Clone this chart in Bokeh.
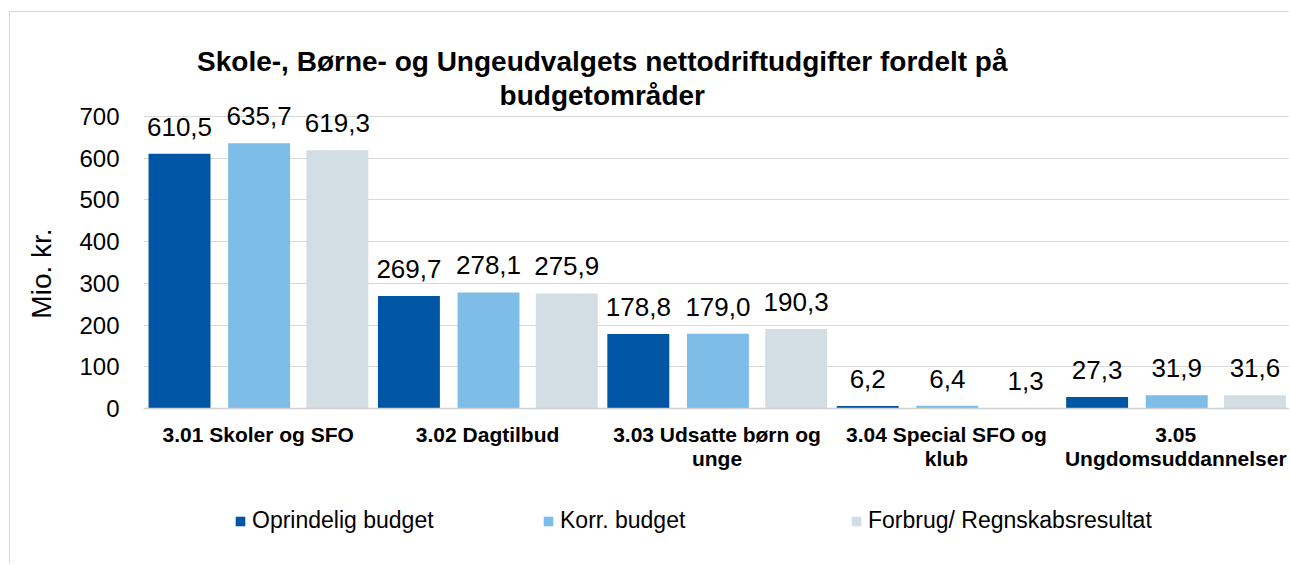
from bokeh.plotting import figure
from bokeh.models import (ColumnDataSource, Range1d, FixedTicker, LinearAxis,
                          LabelSet, Label, Legend, LegendItem)
from bokeh.core.properties import value
from bokeh.transform import dodge
from bokeh.embed import file_html
from bokeh.resources import INLINE

# ---- data ----
categories = ["3.01 Skoler og SFO", "3.02 Dagtilbud", "3.03 Udsatte børn og unge",
              "3.04 Special SFO og klub", "3.05 Ungdomsuddannelser"]
category_labels = ["3.01 Skoler og SFO", "3.02 Dagtilbud", "3.03 Udsatte børn og\nunge",
                   "3.04 Special SFO og\nklub", "3.05\nUngdomsuddannelser"]
series_names = ["Oprindelig budget", "Korr. budget", "Forbrug/ Regnskabsresultat"]
oprindelig = [610.5, 269.7, 178.8, 6.2, 27.3]
korr = [635.7, 278.1, 179.0, 6.4, 31.9]
forbrug = [619.3, 275.9, 190.3, 1.3, 31.6]
y_ticks = [0, 100, 200, 300, 400, 500, 600, 700]
title_lines = ["Skole-, Børne- og Ungeudvalgets nettodriftudgifter fordelt på", "budgetområder"]
y_label = "Mio. kr."

colors = ["#0055A4", "#7DBDE8", "#D3DDE4"]
offsets = [-0.343, 0.004, 0.345]
FONT = "Liberation Sans"

def fmt(v):
    return f"{v:.1f}".replace(".", ",")

xpos = [i + 0.5 for i in range(len(categories))]
series = [oprindelig, korr, forbrug]
data = dict(cat=categories, x=xpos)
for i, s in enumerate(series):
    data[f"v{i}"] = s
    data[f"l{i}"] = [fmt(v) for v in s]
source = ColumnDataSource(data)

line1 = [c.split("\n")[0] for c in category_labels]
line2 = [c.split("\n")[1] if "\n" in c else "" for c in category_labels]

# the frame covers title and legend area so nothing is clipped; value 0 sits at the x axis
p = figure(x_range=Range1d(0, len(categories)), y_range=Range1d(-302.05, 949.3),
           width=1280, height=552, output_backend="svg", toolbar_location=None,
           min_border_left=133, min_border_right=0, min_border_top=0, min_border_bottom=30)
p.styles = {"margin-left": "9px", "margin-top": "11px",
            "border-left": "1px solid #d9d9d9", "border-top": "1px solid #d9d9d9"}
p.outline_line_color = None
p.xgrid.grid_line_color = None
p.ygrid.grid_line_color = "#d9d9d9"
p.ygrid.grid_line_width = 1

items = []
for i in range(3):
    r = p.vbar(x=dodge("x", offsets[i]), top=f"v{i}", width=0.27,
               source=source, fill_color=colors[i], line_color=None)
    items.append(LegendItem(label=series_names[i], renderers=[r]))
    p.add_layout(LabelSet(x=dodge("x", offsets[i]), y=f"v{i}", text=f"l{i}",
                          source=source, text_align="center", text_baseline="alphabetic",
                          y_offset=18, text_font=value(FONT), text_font_size=value("26px"),
                          text_color="#000000"))

# y axis
p.yaxis.ticker = FixedTicker(ticks=y_ticks)
p.yaxis.axis_line_color = None
p.yaxis.major_tick_line_color = None
p.yaxis.major_tick_out = 0
p.yaxis.major_tick_in = 0
p.yaxis.minor_tick_line_color = None
p.yaxis.major_label_standoff = 24
p.yaxis.major_label_text_font = FONT
p.yaxis.major_label_text_font_size = "24px"
p.yaxis.major_label_text_color = "#000000"
p.yaxis.axis_label = y_label
p.yaxis.axis_label_text_font = FONT
p.yaxis.axis_label_text_font_size = "28px"
p.yaxis.axis_label_text_font_style = "normal"
p.yaxis.axis_label_text_color = "#000000"
p.yaxis.axis_label_standoff = 19

# x axis at value 0: two stacked category label lines
def style_x(ax, standoff, labels):
    ax.fixed_location = 0
    ax.ticker = FixedTicker(ticks=xpos)
    ax.major_label_overrides = {x: t for x, t in zip(xpos, labels)}
    ax.major_tick_line_color = None
    ax.minor_tick_line_color = None
    ax.major_tick_out = 0
    ax.major_tick_in = 0
    ax.major_label_standoff = standoff
    ax.major_label_text_font = FONT
    ax.major_label_text_font_size = "21px"
    ax.major_label_text_font_style = "bold"
    ax.major_label_text_color = "#000000"

xa = p.xaxis[0]
style_x(xa, 14, line1)
xa.axis_line_color = "#d0d0d0"
xa.axis_line_width = 1.5

xa2 = LinearAxis()
p.add_layout(xa2, "below")
style_x(xa2, 38, line2)
xa2.axis_line_color = None

# title as two centred lines
for txt, yy in zip(title_lines, [831.9, 750.4]):
    p.add_layout(Label(x=2.0, y=yy, text=txt, text_align="center", text_baseline="alphabetic",
                       text_font=FONT, text_font_size="28px", text_font_style="bold",
                       text_color="#000000"))

legend = Legend(items=items, orientation="horizontal", location=(91, 0),
                glyph_width=12, glyph_height=12, label_standoff=6, label_width=290,
                spacing=0, padding=0, margin=0, border_line_color=None,
                background_fill_alpha=0, label_text_font=FONT, label_text_font_size="23px",
                label_text_color="#000000")
p.add_layout(legend, "center")

open("out.html", "w").write(file_html(p, INLINE))
